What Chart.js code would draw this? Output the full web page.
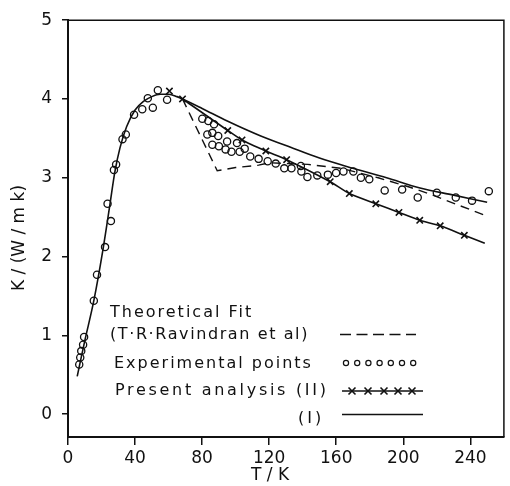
<!DOCTYPE html>
<html>
<head>
<meta charset="utf-8">
<script src="https://cdn.jsdelivr.net/npm/chart.js@4"></script>
<style>
  html, body { margin: 0; padding: 0; background: #fff; }
  canvas { display: block; }
</style>
</head>
<body>
<canvas id="chart" width="510" height="486"></canvas>
<script>
// experimental points (circles)
const expT = [6.7, 7.3, 7.9, 9.0, 9.6, 15.4, 17.3, 22.1, 23.6, 25.6, 27.4, 28.7, 32.5, 34.5, 39.4, 44.3, 47.6, 50.6, 53.6, 59.1,
    80.1, 83.7, 87.1, 83.1, 86.1, 89.6, 86.1, 90.0, 94.0, 97.5, 94.9, 100.8, 102.4, 105.4, 108.7, 113.7, 119.1, 123.9, 129.0,
    133.3, 138.9, 139.2, 142.8, 148.7, 155.0, 159.9, 164.3, 170.2, 174.7, 179.7, 188.9, 199.3, 208.6, 220.0, 231.3, 241.0, 251.0]
const expK = [0.63, 0.72, 0.80, 0.88, 0.98, 1.44, 1.77, 2.12, 2.67, 2.45, 3.10, 3.17, 3.49, 3.55, 3.80, 3.87, 4.01, 3.89, 4.11, 3.99,
    3.75, 3.72, 3.68, 3.55, 3.57, 3.53, 3.42, 3.40, 3.36, 3.33, 3.46, 3.44, 3.33, 3.37, 3.27, 3.24, 3.21, 3.18, 3.12,
    3.12, 3.15, 3.08, 3.01, 3.03, 3.04, 3.06, 3.08, 3.08, 3.00, 2.98, 2.84, 2.85, 2.75, 2.81, 2.75, 2.71, 2.83]

// curve (I)
const fitIT = [5.5, 10, 15.4, 20.7, 25, 28, 31, 35, 40, 45, 50, 55, 60, 65, 68.3, 80, 95, 115, 130, 150, 170, 190, 210, 230, 250]
const fitIK = [0.48, 0.93, 1.44, 2.07, 2.66, 3.08, 3.38, 3.65, 3.86, 3.97, 4.03, 4.06, 4.06, 4.03, 4.00, 3.88, 3.72, 3.53, 3.41, 3.25, 3.12, 3.00, 2.87, 2.78, 2.69]

// present analysis (II), crosses
const fitIIT = [60.5, 68.3, 95.3, 103.8, 118, 130.4, 156.4, 167.8, 183.6, 197.4, 209.8, 222, 236.4, 248.6]
const fitIIK = [4.10, 4.00, 3.60, 3.48, 3.34, 3.23, 2.95, 2.80, 2.67, 2.56, 2.46, 2.39, 2.27, 2.17]

// theoretical fit (T.R. Ravindran et al), dashed
const theoT = [68.3, 89, 100, 113.7, 120, 133, 143, 163, 185, 204, 215, 232, 248]
const theoK = [4.00, 3.09, 3.13, 3.16, 3.19, 3.18, 3.17, 3.12, 3.00, 2.88, 2.80, 2.66, 2.53]

const xTicks = [0, 40, 80, 120, 160, 200, 240]
const yTicks = [0, 1, 2, 3, 4, 5]

const FONT = "'DejaVu Sans', sans-serif"
const INK = "#111"

const toXY = (xs, ys) => xs.map((x, i) => ({ x: x, y: ys[i] }))

const decorations = {
    id: "decorations",
    afterDraw(chart) {
        const ctx = chart.ctx
        const a = chart.chartArea
        ctx.save()
        // top and right frame
        ctx.strokeStyle = INK
        ctx.lineWidth = 1.5
        ctx.beginPath()
        ctx.moveTo(a.left, a.top)
        ctx.lineTo(a.right, a.top)
        ctx.lineTo(a.right, a.bottom)
        ctx.stroke()

        // axis titles
        ctx.fillStyle = INK
        ctx.font = "17px " + FONT
        ctx.textAlign = "center"
        ctx.textBaseline = "middle"
        ctx.fillText("T / K", 270, 476)
        ctx.translate(20, 238)
        ctx.rotate(-Math.PI / 2)
        ctx.fillText("K / (W / m k)", 0, 0)
        ctx.restore()

        // legend
        ctx.save()
        ctx.fillStyle = INK
        ctx.strokeStyle = INK
        ctx.font = "16px " + FONT
        ctx.textAlign = "left"
        ctx.textBaseline = "alphabetic"
        ctx.letterSpacing = "2px"
        ctx.fillText("Theoretical Fit", 110, 317)
        ctx.fillText("Experimental points", 114, 368)
        ctx.letterSpacing = "1.6px"
        ctx.fillText("(T\u00b7R\u00b7Ravindran et al)", 110, 338.5)
        ctx.letterSpacing = "2.7px"
        ctx.fillText("Present analysis (II)", 115, 395)
        ctx.letterSpacing = "3px"
        ctx.fillText("(I)", 298, 423)

        ctx.lineWidth = 1.6
        ctx.setLineDash([11, 5.5])
        ctx.beginPath()
        ctx.moveTo(340, 334.5)
        ctx.lineTo(416, 334.5)
        ctx.stroke()
        ctx.setLineDash([])

        ctx.lineWidth = 1.2
        for (let i = 0; i < 7; i++) {
            ctx.beginPath()
            ctx.arc(346 + i * 11.2, 363, 2.6, 0, Math.PI * 2)
            ctx.stroke()
        }

        ctx.lineWidth = 1.6
        ctx.beginPath()
        ctx.moveTo(342, 391)
        ctx.lineTo(423, 391)
        ctx.stroke()
        ;[352, 368, 384, 398, 412].forEach((cx) => {
            ctx.beginPath()
            ctx.moveTo(cx - 3.5, 387.5)
            ctx.lineTo(cx + 3.5, 394.5)
            ctx.moveTo(cx + 3.5, 387.5)
            ctx.lineTo(cx - 3.5, 394.5)
            ctx.stroke()
        })

        ctx.beginPath()
        ctx.moveTo(342, 414.5)
        ctx.lineTo(423, 414.5)
        ctx.stroke()
        ctx.restore()
    },
}

new Chart(document.getElementById("chart"), {
    type: "line",
    data: {
        datasets: [
            {
                label: "Experimental points",
                data: toXY(expT, expK),
                showLine: false,
                pointStyle: "circle",
                pointRadius: 3.6,
                pointBorderWidth: 1.3,
                pointBorderColor: INK,
                pointBackgroundColor: "rgba(0,0,0,0)",
            },
            {
                label: "(I)",
                data: toXY(fitIT, fitIK),
                borderColor: INK,
                borderWidth: 1.6,
                pointRadius: 0,
                cubicInterpolationMode: "monotone",
            },
            {
                label: "Present analysis (II)",
                data: toXY(fitIIT, fitIIK),
                borderColor: INK,
                borderWidth: 1.6,
                tension: 0.2,
                pointStyle: "crossRot",
                pointRadius: fitIIT.map((t, i) => (i === fitIIT.length - 1 ? 0 : 4.5)),
                pointBorderWidth: 1.6,
                pointBorderColor: INK,
                segment: {
                    borderColor: (c) => (c.p0DataIndex === 0 ? "rgba(0,0,0,0)" : INK),
                },
            },
            {
                label: "Theoretical Fit",
                data: toXY(theoT, theoK),
                borderColor: INK,
                borderWidth: 1.4,
                borderDash: [9, 6],
                pointRadius: 0,
                tension: 0,
            },
        ],
    },
    options: {
        responsive: false,
        animation: false,
        layout: { padding: { top: 18, right: 2, left: 0, bottom: 0 } },
        plugins: {
            legend: { display: false },
            tooltip: { enabled: false },
            title: { display: false },
        },
        scales: {
            x: {
                type: "linear",
                min: 0,
                max: 260,
                afterFit: (scale) => {
                    scale.height = 49
                },
                afterBuildTicks: (scale) => {
                    scale.ticks = xTicks.map((v) => ({ value: v }))
                },
                ticks: {
                    color: INK,
                    padding: 3,
                    maxRotation: 0,
                    font: { family: FONT, size: 17 },
                },
                grid: {
                    drawOnChartArea: false,
                    drawTicks: true,
                    tickLength: 8,
                    color: INK,
                    lineWidth: 1.5,
                },
                border: { display: true, color: INK, width: 2 },
            },
            y: {
                min: -0.29,
                max: 5,
                afterFit: (scale) => {
                    scale.width = 68
                },
                afterBuildTicks: (scale) => {
                    scale.ticks = yTicks.map((v) => ({ value: v }))
                },
                ticks: {
                    color: INK,
                    padding: 10,
                    font: { family: FONT, size: 17 },
                },
                grid: {
                    drawOnChartArea: false,
                    drawTicks: true,
                    tickLength: 6,
                    color: INK,
                    lineWidth: 1.5,
                },
                border: { display: true, color: INK, width: 2 },
            },
        },
    },
    plugins: [decorations],
})
</script>
</body>
</html>
